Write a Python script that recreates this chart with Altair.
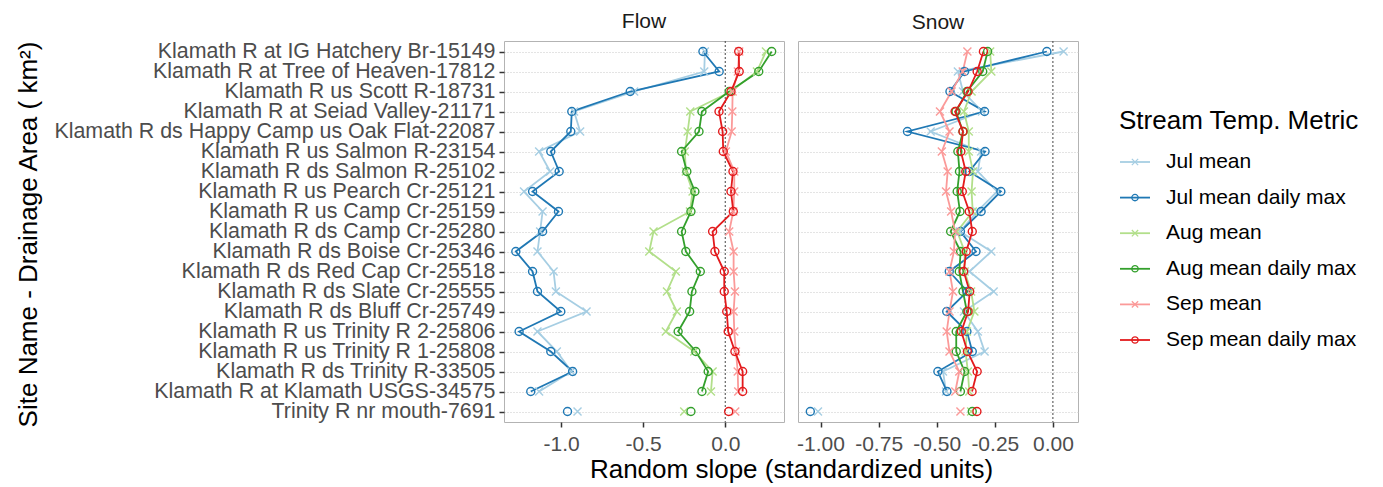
import altair as alt
import pandas as pd

sites = [
    "Klamath R at IG Hatchery Br-15149",
    "Klamath R at Tree of Heaven-17812",
    "Klamath R us Scott R-18731",
    "Klamath R at Seiad Valley-21171",
    "Klamath R ds Happy Camp us Oak Flat-22087",
    "Klamath R us Salmon R-23154",
    "Klamath R ds Salmon R-25102",
    "Klamath R us Pearch Cr-25121",
    "Klamath R us Camp Cr-25159",
    "Klamath R ds Camp Cr-25280",
    "Klamath R ds Boise Cr-25346",
    "Klamath R ds Red Cap Cr-25518",
    "Klamath R ds Slate Cr-25555",
    "Klamath R ds Bluff Cr-25749",
    "Klamath R us Trinity R 2-25806",
    "Klamath R us Trinity R 1-25808",
    "Klamath R ds Trinity R-33505",
    "Klamath R at Klamath USGS-34575",
    "Trinity R nr mouth-7691",
]

metrics = ["Jul mean", "Jul mean daily max", "Aug mean", "Aug mean daily max",
           "Sep mean", "Sep mean daily max"]
colors = ["#A6CEE3", "#1F78B4", "#B2DF8A", "#33A02C", "#FB9A99", "#E31A1C"]
X_PATH = "M-1,-1L1,1M-1,1L1,-1"
shapes = [X_PATH, "circle", X_PATH, "circle", X_PATH, "circle"]

flow_jul_mean = [-0.124, -0.128, -0.555, -0.921, -0.884, -1.134, -1.067, -1.226, -1.113, -1.128,
                 -1.144, -1.046, -1.032, -0.845, -1.144, -1.026, -0.937, -1.134, -0.900]
flow_jul_max = [-0.136, -0.037, -0.579, -0.935, -0.941, -1.063, -1.012, -1.174, -1.016, -1.113,
                -1.276, -1.174, -1.144, -1.002, -1.256, -1.063, -0.930, -1.185, -0.961]
flow_aug_mean = [0.248, 0.193, 0.035, -0.213, -0.229, -0.246, -0.240, -0.199, -0.215, -0.437,
                 -0.463, -0.301, -0.355, -0.295, -0.362, -0.189, -0.077, -0.087, -0.250]
flow_aug_max = [0.283, 0.204, 0.024, -0.142, -0.160, -0.266, -0.234, -0.185, -0.209, -0.266,
                -0.240, -0.152, -0.203, -0.217, -0.287, -0.179, -0.104, -0.142, -0.209]
flow_sep_mean = [0.085, 0.077, 0.045, 0.043, 0.039, 0.004, 0.055, 0.055, 0.049, 0.024,
                 0.051, 0.051, 0.059, 0.051, 0.055, 0.065, 0.076, 0.079, 0.061]
flow_sep_max = [0.082, 0.085, 0.035, -0.038, -0.016, -0.012, 0.047, 0.035, 0.049, -0.077,
                -0.063, -0.006, -0.006, 0.009, 0.018, 0.059, 0.106, 0.106, 0.021]

snow_jul_mean = [0.046, -0.409, -0.387, -0.305, -0.526, -0.309, -0.323, -0.240, -0.326, -0.400,
                 -0.265, -0.359, -0.255, -0.383, -0.323, -0.294, -0.473, -0.460, -1.011]
snow_jul_max = [-0.026, -0.380, -0.443, -0.294, -0.626, -0.292, -0.360, -0.224, -0.309, -0.398,
                -0.331, -0.446, -0.368, -0.457, -0.370, -0.347, -0.495, -0.456, -1.044]
snow_aug_mean = [-0.270, -0.265, -0.350, -0.383, -0.362, -0.362, -0.344, -0.350, -0.345, -0.412,
                 -0.380, -0.380, -0.352, -0.338, -0.370, -0.376, -0.366, -0.360, -0.352]
snow_aug_max = [-0.281, -0.302, -0.370, -0.417, -0.387, -0.409, -0.402, -0.412, -0.400, -0.440,
                -0.397, -0.403, -0.387, -0.370, -0.416, -0.416, -0.380, -0.398, -0.347]
snow_sep_mean = [-0.368, -0.388, -0.436, -0.486, -0.445, -0.478, -0.453, -0.460, -0.438, -0.421,
                 -0.426, -0.445, -0.430, -0.445, -0.457, -0.445, -0.403, -0.420, -0.398]
snow_sep_max = [-0.299, -0.326, -0.365, -0.421, -0.387, -0.396, -0.375, -0.390, -0.360, -0.347,
                -0.373, -0.384, -0.358, -0.365, -0.394, -0.368, -0.326, -0.348, -0.327]

flow = dict(zip(metrics, [flow_jul_mean, flow_jul_max, flow_aug_mean, flow_aug_max,
                          flow_sep_mean, flow_sep_max]))
snow = dict(zip(metrics, [snow_jul_mean, snow_jul_max, snow_aug_mean, snow_aug_max,
                          snow_sep_mean, snow_sep_max]))

rows = []
for panel_name, table in (("Flow", flow), ("Snow", snow)):
    for m in metrics:
        for i, (s, v) in enumerate(zip(sites, table[m])):
            rows.append(dict(panel=panel_name, metric=m, site=s, idx=i,
                             river=s.split(" R")[0], value=v))
df = pd.DataFrame(rows)

FONT = "Liberation Sans"
GRID = dict(grid=True, gridDash=[1, 2], gridColor="#C8C8C8", gridWidth=1)
color_enc = alt.Color("metric:N", scale=alt.Scale(domain=metrics, range=colors), legend=None)
shape_enc = alt.Shape("metric:N", scale=alt.Scale(domain=metrics, range=shapes), legend=None)


def make_panel(name, domain, ticks, fmt, first):
    d = df[df.panel == name]
    base = alt.Chart(d)
    if first:
        yaxis = alt.Axis(title="Site Name - Drainage Area ( km\u00b2)", labelFontSize=21.4,
                         labelColor="#4D4D4D", labelLimit=1000, labelPadding=4,
                         tickColor="#333333", tickSize=5, tickWidth=1.5, domain=False,
                         titleFontSize=26, titleFontWeight="normal", titleColor="black",
                         titleX=-476, titleY=193, titleAngle=270, titleAlign="center",
                         titleBaseline="middle", **GRID)
        xaxis_title = dict(title="")
    else:
        yaxis = alt.Axis(title="", labels=False, ticks=False, domain=False, **GRID)
        xaxis_title = dict(title="Random slope (standardized units)", titleX=-7, titleY=55,
                           titleAlign="center", titleBaseline="alphabetic", titleFontSize=26,
                           titleFontWeight="normal", titleColor="black")
    y = alt.Y("site:N", sort=sites, scale=alt.Scale(type="point", padding=0.525), axis=yaxis)
    x = alt.X("value:Q",
              scale=alt.Scale(domain=domain, nice=False, zero=False),
              axis=alt.Axis(values=ticks,
                            labelExpr="replace(format(datum.value, '%s'), '\u2212', '-')" % fmt,
                            labelFontSize=21, labelColor="#4D4D4D", labelPadding=6,
                            tickColor="#333333", tickSize=5, tickWidth=1.5,
                            domain=False, grid=False, **xaxis_title))
    zero = base.transform_aggregate(n="count()").mark_rule(
        color="#444444", strokeDash=[2, 2], strokeWidth=1).encode(x=alt.datum(0))
    lines = base.mark_line(strokeWidth=1.8).encode(
        x=x, y=y, color=color_enc, detail="river:N", order="idx:Q")
    pts = base.mark_point(filled=False, size=64, strokeWidth=1.4, opacity=1).encode(
        x=x, y=y, color=color_enc, shape=shape_enc)
    return alt.layer(zero, lines, pts).properties(
        width=280, height=381,
        title=alt.TitleParams(name, fontSize=21, fontWeight="normal", color="#1A1A1A",
                              offset=8))


flow_panel = make_panel("Flow", [-1.348, 0.358], [-1.0, -0.5, 0.0], ".1f", True)
snow_panel = make_panel("Snow", [-1.097, 0.108], [-1.0, -0.75, -0.5, -0.25, 0.0], ".2f", False)

leg_df = pd.DataFrame({"metric": metrics})
ly = alt.Y("metric:N", sort=metrics,
           scale=alt.Scale(type="point", domain=metrics, range=[121, 299], padding=0), axis=None)
leg_base = alt.Chart(leg_df)
leg_lines = leg_base.mark_rule(strokeWidth=1.8).encode(
    x=alt.value(28), x2=alt.value(58), y=ly, color=color_enc)
leg_pts = leg_base.mark_point(filled=False, size=40, opacity=1, strokeWidth=1.3).encode(
    x=alt.value(43), y=ly, color=color_enc, shape=shape_enc)
leg_text = leg_base.mark_text(align="left", baseline="middle", fontSize=21, color="black").encode(
    x=alt.value(74), y=ly, text="metric:N")
leg_title = alt.Chart(pd.DataFrame({"t": ["Stream Temp. Metric"]})).mark_text(
    align="left", baseline="middle", fontSize=26, color="black").encode(
    x=alt.value(27), y=alt.value(80), text="t:N")
legend = alt.layer(leg_lines, leg_pts, leg_text, leg_title).properties(
    width=270, height=381, view=alt.ViewBackground(stroke="transparent"))

chart = alt.hconcat(flow_panel, snow_panel, legend, spacing=14, bounds="flush").resolve_scale(
    x="independent", y="independent"
).properties(
    padding={"left": 14, "top": 10, "right": 0, "bottom": 0}
).configure(font=FONT).configure_view(stroke="#B3B3B3", strokeWidth=1)

chart.save("out.html", embed_options={"renderer": "svg", "actions": False})
